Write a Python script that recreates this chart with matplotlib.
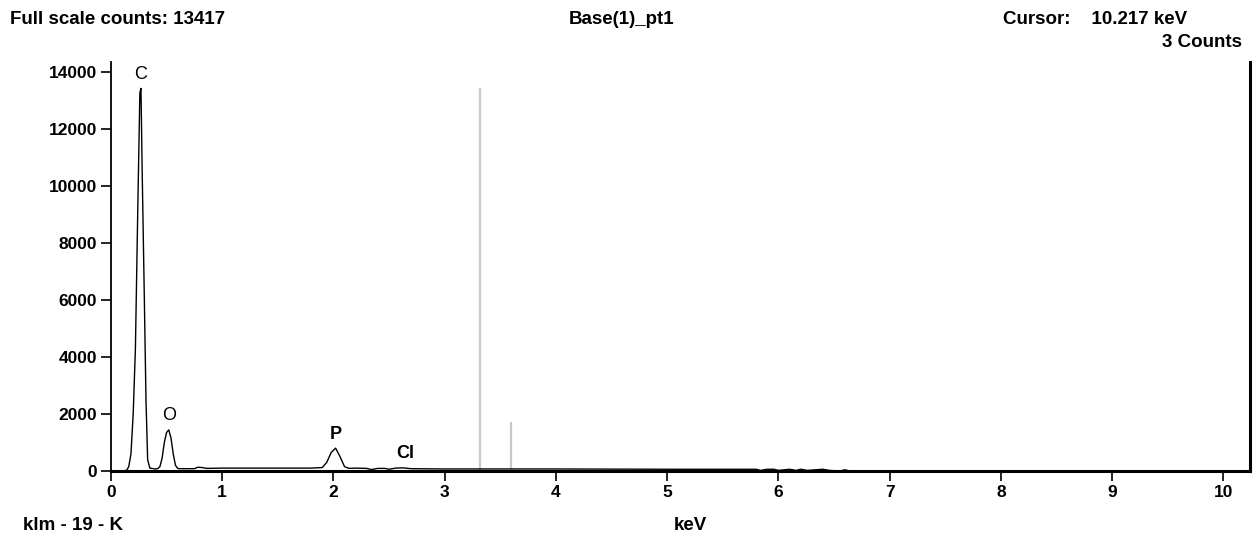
import matplotlib
matplotlib.use("Agg")
import matplotlib.pyplot as plt

# EDS spectrum (keV, counts)
energy = [0.00, 0.10, 0.14, 0.16, 0.18, 0.20, 0.22, 0.24, 0.26, 0.27, 0.28, 0.30,
          0.315, 0.33, 0.35, 0.40, 0.42, 0.44, 0.46, 0.48, 0.50, 0.52, 0.54, 0.56,
          0.58, 0.60, 0.62, 0.75, 0.78, 0.82, 0.86, 1.00, 1.40, 1.80, 1.90, 1.94,
          1.98, 2.02, 2.06, 2.10, 2.14, 2.20, 2.30, 2.34, 2.40, 2.46, 2.50, 2.56,
          2.62, 2.70, 3.00, 4.00, 5.00, 5.80, 5.84, 5.90, 5.96, 6.00, 6.10, 6.16,
          6.20, 6.26, 6.40, 6.46, 6.55, 6.60, 6.64, 6.68]
counts = [0, 0, 20, 150, 600, 2000, 4300, 8900, 13260, 13417, 10700, 6100,
          2500, 390, 100, 70, 80, 150, 450, 1000, 1350, 1440, 1150, 600,
          200, 90, 80, 80, 130, 120, 90, 100, 100, 100, 120, 300,
          650, 800, 500, 150, 90, 100, 90, 50, 90, 90, 60, 100,
          110, 80, 70, 70, 60, 60, 20, 60, 60, 20, 60, 20,
          60, 20, 60, 20, 0, 40, 0, 0]

peak_labels = ["C", "O", "P", "Cl"]
peak_pos = [0.27, 0.52, 2.02, 2.65]
peak_heights = [13417, 1440, 800, 110]

marker_pos = [3.32, 3.60]
marker_heights = [13417, 1700]

x_ticks = list(range(0, 11))
y_ticks = list(range(0, 14001, 2000))

plt.rcParams["font.family"] = ["Liberation Sans", "DejaVu Sans"]

fig = plt.figure(figsize=(12.55, 5.47), dpi=100)
ax = fig.add_axes([0.0884, 0.139, 0.9076, 0.748])

ax.vlines(marker_pos, 0, marker_heights, color="#c8c8c8", lw=1.6, zorder=1)
ax.plot(energy, counts, color="black", lw=1.0, zorder=2)

for lab, xp, h in zip(peak_labels, peak_pos, peak_heights):
    bold = lab in ("P", "Cl")
    ax.annotate(lab, (xp, h), xytext=(0, 4), textcoords="offset points",
                ha="center", va="bottom", fontsize=13,
                fontweight="bold" if bold else "normal")

ax.set_xlim(0, 10.24)
ax.set_ylim(0, 14350)
ax.set_xticks(x_ticks)
ax.set_yticks(y_ticks)
ax.tick_params(direction="out", length=7, width=1.2, labelsize=12.5, pad=3)
for t in ax.get_xticklabels() + ax.get_yticklabels():
    t.set_fontweight("bold")

ax.spines["top"].set_visible(False)
ax.spines["bottom"].set_linewidth(2.2)
ax.spines["left"].set_linewidth(1.3)
ax.spines["right"].set_linewidth(2.2)

hdr = dict(fontsize=13.5, fontweight="bold", va="top")
fig.text(0.008, 0.980, "Full scale counts: 13417", ha="left", **hdr)
fig.text(0.495, 0.980, "Base(1)_pt1", ha="center", **hdr)
fig.text(0.799, 0.980, "Cursor:    10.217 keV", ha="left", **hdr)
fig.text(0.990, 0.937, "3 Counts", ha="right", **hdr)
fig.text(0.018, 0.04, "klm - 19 - K", ha="left", va="center",
         fontsize=13.5, fontweight="bold")
fig.text(0.55, 0.04, "keV", ha="center", va="center",
         fontsize=13.5, fontweight="bold")

fig.savefig("out.png", dpi=100, facecolor="white")
